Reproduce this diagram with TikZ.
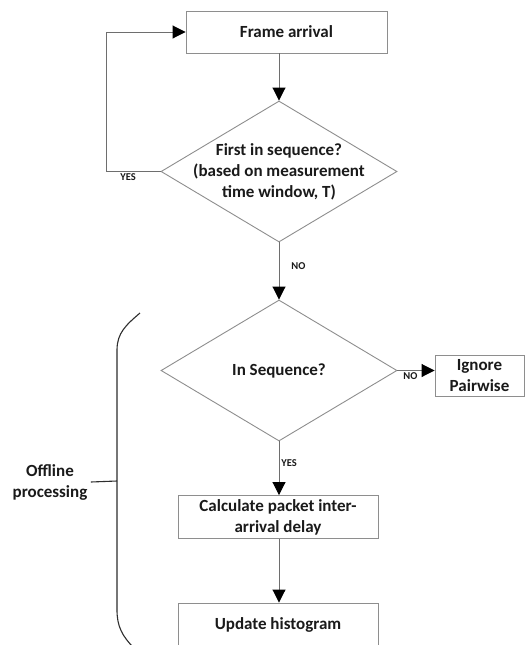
\documentclass[tikz,border=0pt]{standalone}
\usepackage{fontspec}
\setmainfont{Carlito}
\usepackage{xcolor}
\usepackage{tikz}
\usetikzlibrary{arrows.meta, shapes.geometric, positioning}
\definecolor{boxgrey}{HTML}{8E8E8E}
\definecolor{linegrey}{HTML}{6E6E6E}
\definecolor{inkblack}{HTML}{1A1A1A}
\definecolor{bracegrey}{HTML}{2E2E2E}

\begin{document}
\begin{tikzpicture}[x=1pt, y=1pt,
    every node/.style={font=\fontsize{17}{21}\selectfont\bfseries, text=inkblack},
    procbox/.style={draw=boxgrey, line width=0.9pt, minimum width=201pt, minimum height=42pt, inner sep=2pt, align=center},
    decision/.style={draw=boxgrey, line width=0.9pt, diamond, inner sep=0pt, minimum width=236pt, minimum height=141pt},
    flow/.style={draw=linegrey, line width=0.9pt, -{Triangle[width=13pt, length=13pt, color=black]}},
    tag/.style={font=\fontsize{10.5}{12}\selectfont\bfseries, inner sep=2pt}]

    % =================================================================
    % LAYER 0: THE PAGE
    % =================================================================
    \clip (0,0) rectangle (525,-645);
    \fill[white] (0,0) rectangle (525,-645);

    % =================================================================
    % LAYER 1: THE ONLINE PART
    % =================================================================
    \node[procbox] (frame) at (286.5,-32) {Frame arrival};
    \node[decision] (first) at (279,-171.5) {};
    \node[align=center] (firsttext) at (first.center) {First in sequence?\\(based on measurement\\time window, T)};

    \draw[flow] (frame.south -| first.north) -- (first.north);
    \draw[flow] (first.west) -- node[tag, below, pos=0.6] {YES} ++(-54,0) |- (frame.west);

    % =================================================================
    % LAYER 2: THE OFFLINE PART
    % =================================================================
    \node[decision] (inseq) at (279,-370.5) {};
    \node (inseqtext) at (inseq.center) {In Sequence?};
    \node[procbox, minimum width=89pt, minimum height=41pt] (ignore) at (479.5,-375.5) {Ignore\\Pairwise};
    \node[procbox, minimum width=200pt, minimum height=43pt] (delay) at (278,-517) {Calculate packet inter-\\arrival delay};
    \node[procbox, minimum width=200pt, minimum height=44pt] (hist) at (278,-625) {Update histogram};

    \draw[flow] (first.south) -- node[tag, right, pos=0.41, xshift=10pt] {NO} (inseq.north);
    \draw[flow] (inseq.east) -- node[tag, below, pos=0.35] {NO} (inseq.east -| ignore.west);
    \draw[flow] (inseq.south) -- node[tag, right, pos=0.4] {YES} (inseq.south |- delay.north);
    \draw[flow] (delay.south -| inseq.south) -- (inseq.south |- hist.north);

    % =================================================================
    % LAYER 3: THE BRACKET
    % =================================================================
    \coordinate (bracemid) at (117,-481);
    \node[align=center] (offline) at (50,-482) {Offline\\processing};
    \draw[bracegrey, line width=1.1pt] (140,-313) .. controls (126,-325) and (117,-333) .. (117,-350) -- (117,-610) .. controls (117,-626) and (122,-636) .. (134,-648);
    \draw[bracegrey, line width=1.1pt] (offline.east) -- (bracemid);
\end{tikzpicture}
\end{document}
